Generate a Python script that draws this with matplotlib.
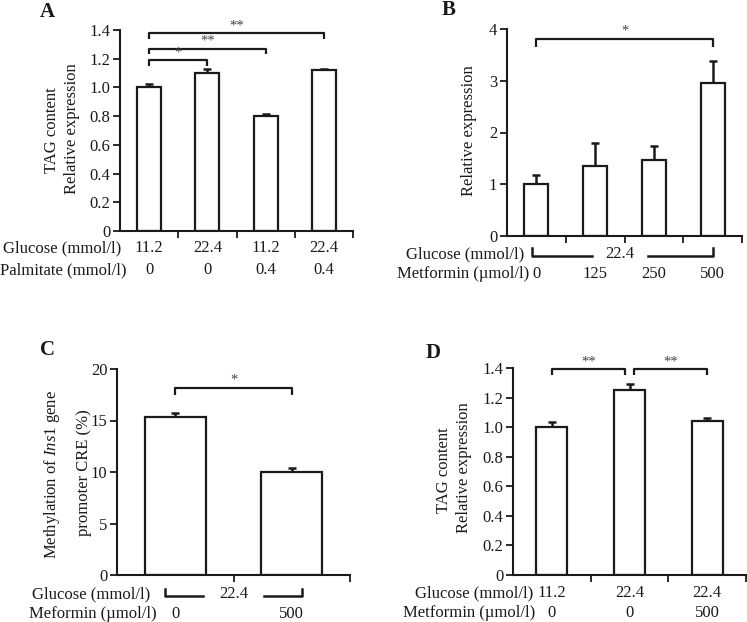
import matplotlib
matplotlib.use("Agg")
import matplotlib.pyplot as plt
from matplotlib.transforms import blended_transform_factory

plt.rcParams['font.family'] = ['Liberation Serif', 'DejaVu Serif']
plt.rcParams['mathtext.fontset'] = 'custom'
plt.rcParams['mathtext.rm'] = 'Liberation Serif'
plt.rcParams['mathtext.it'] = 'Liberation Serif:italic'

# ---------------- data ----------------
# Panel A
a_glucose = ["11.2", "22.4", "11.2", "22.4"]
a_palmitate = ["0", "0", "0.4", "0.4"]
a_values = [1.00, 1.10, 0.80, 1.12]
a_errors = [0.022, 0.030, 0.012, 0.005]
a_yticks = [0, 0.2, 0.4, 0.6, 0.8, 1.0, 1.2, 1.4]
a_yticklabels = ["0", "0.2", "0.4", "0.6", "0.8", "1.0", "1.2", "1.4"]
a_sig = [(0, 1, 1.19, "*"), (0, 2, 1.27, "**"), (0, 3, 1.38, "**")]

# Panel B
b_glucose = "22.4"
b_metformin = ["0", "125", "250", "500"]
b_values = [1.00, 1.36, 1.47, 2.95]
b_errors = [0.17, 0.43, 0.26, 0.44]
b_yticks = [0, 1, 2, 3, 4]
b_yticklabels = ["0", "1", "2", "3", "4"]
b_sig = [(0, 3, 3.81, "*")]

# Panel C
c_glucose = "22.4"
c_metformin = ["0", "500"]
c_values = [15.3, 10.0]
c_errors = [0.40, 0.40]
c_yticks = [0, 5, 10, 15, 20]
c_yticklabels = ["0", "5", "10", "15", "20"]
c_sig = [(0, 1, 18.2, "*")]

# Panel D
d_glucose = ["11.2", "22.4", "22.4"]
d_metformin = ["0", "0", "500"]
d_values = [1.00, 1.25, 1.04]
d_errors = [0.035, 0.045, 0.022]
d_yticks = [0, 0.2, 0.4, 0.6, 0.8, 1.0, 1.2, 1.4]
d_yticklabels = ["0", "0.2", "0.4", "0.6", "0.8", "1.0", "1.2", "1.4"]
d_sig = [(0, 0.94, 1.393, "**"), (1.06, 2, 1.393, "**")]

# ---------------- figure ----------------
W, H = 747, 622
fig = plt.figure(figsize=(W / 100, H / 100), dpi=100)
TXT = "#1a1a1a"
FS = 12


def fx(px):
    return px / W


def fy(py):
    return 1 - py / H


def make_ax(left, right, bottom, top):
    return fig.add_axes([fx(left), fy(bottom), (right - left) / W, (bottom - top) / H])


def style_bars(ax, values, errors, width, yticks, yticklabels, ymax):
    n = len(values)
    x = list(range(n))
    ax.bar(x, values, width=width, color="white", edgecolor="#1a1a1a", linewidth=1.6, zorder=2)
    ax.errorbar(x, values, yerr=[[0] * n, errors], fmt="none", ecolor="#1a1a1a",
                elinewidth=1.8, capsize=3, capthick=1.8, zorder=1)
    ax.set_xlim(-0.5, n - 0.5)
    ax.set_ylim(0, ymax)
    ax.set_yticks(yticks)
    ax.set_yticklabels(yticklabels, fontsize=FS, color=TXT)
    ax.set_xticks([i + 0.5 for i in range(n)])
    ax.set_xticklabels([])
    for s in ["top", "right"]:
        ax.spines[s].set_visible(False)
    for s in ["left", "bottom"]:
        ax.spines[s].set_linewidth(1.5)
        ax.spines[s].set_color("#1a1a1a")
    ax.tick_params(axis="y", direction="out", length=5, width=1.3, pad=2, colors="#1a1a1a")
    ax.tick_params(axis="x", direction="out", length=5, width=1.3, colors="#1a1a1a")
    ax.patch.set_visible(False)


def sig_bracket(ax, x1, x2, y, label, drop, star_off):
    ax.plot([x1, x1, x2, x2], [y - drop, y, y, y - drop], color="#1a1a1a", lw=1.6,
            clip_on=False, solid_capstyle="butt")
    ax.text((x1 + x2) / 2, y + star_off, label, ha="center", va="bottom", fontsize=10.5, color="#444444")


def row_text(ax, xs, labels, py):
    tr = blended_transform_factory(ax.transData, fig.transFigure)
    for xv, lab in zip(xs, labels):
        ax.text(xv, fy(py), lab, transform=tr, ha="center", va="center", fontsize=FS, color=TXT)


def under_bracket(ax, x1, x2, gap1, gap2, py, label, tick_px=8):
    tr = blended_transform_factory(ax.transData, fig.transFigure)
    y = fy(py)
    yt = fy(py - tick_px)
    ax.plot([x1, x1, gap1], [yt, y, y], transform=tr, color="#1a1a1a", lw=1.8, clip_on=False)
    ax.plot([gap2, x2, x2], [y, y, yt], transform=tr, color="#1a1a1a", lw=1.8, clip_on=False)
    ax.text((gap1 + gap2) / 2, fy(py - 2), label, transform=tr, ha="center", va="center",
            fontsize=FS, color=TXT)


# ---------- Panel A ----------
axA = make_ax(120, 353, 231, 30)
style_bars(axA, a_values, a_errors, 0.41, a_yticks, a_yticklabels, 1.4)
for x1, x2, y, lab in a_sig:
    sig_bracket(axA, x1, x2, y, lab, 0.04, 0.005)
row_text(axA, range(4), a_glucose, 248)
row_text(axA, range(4), a_palmitate, 270)
fig.text(fx(3), fy(248), "Glucose (mmol/l)", ha="left", va="center", fontsize=FS, color=TXT)
fig.text(fx(0), fy(270), "Palmitate (mmol/l)", ha="left", va="center", fontsize=FS, color=TXT)
fig.text(fx(52), fy(130), "TAG content", rotation=90, ha="center", va="center", fontsize=FS, color=TXT)
fig.text(fx(72), fy(129), "Relative expression", rotation=90, ha="center", va="center", fontsize=FS, color=TXT)
fig.text(fx(47), fy(12), "A", ha="center", va="center", fontsize=15, fontweight="bold", color=TXT)

# ---------- Panel B ----------
axB = make_ax(507, 742, 236, 29)
style_bars(axB, b_values, b_errors, 0.41, b_yticks, b_yticklabels, 4)
for x1, x2, y, lab in b_sig:
    sig_bracket(axB, x1, x2, y, lab, 0.15, 0.02)
under_bracket(axB, 0 - 0.07, 3, 0.95, 1.9, 256, b_glucose)
row_text(axB, range(4), b_metformin, 274)
fig.text(fx(406), fy(254), "Glucose (mmol/l)", ha="left", va="center", fontsize=FS, color=TXT)
fig.text(fx(397), fy(274), "Metformin (\u00b5mol/l)", ha="left", va="center", fontsize=FS, color=TXT)
fig.text(fx(469), fy(131), "Relative expression", rotation=90, ha="center", va="center", fontsize=FS, color=TXT)
fig.text(fx(449), fy(10), "B", ha="center", va="center", fontsize=15, fontweight="bold", color=TXT)

# ---------- Panel C ----------
axC = make_ax(117, 350, 575, 369)
style_bars(axC, c_values, c_errors, 0.52, c_yticks, c_yticklabels, 20)
for x1, x2, y, lab in c_sig:
    sig_bracket(axC, x1, x2, y, lab, 0.7, 0.1)
under_bracket(axC, -0.09, 1.09, 0.24, 0.76, 596, c_glucose, tick_px=7)
row_text(axC, range(2), c_metformin, 614)
fig.text(fx(32), fy(594), "Glucose (mmol/l)", ha="left", va="center", fontsize=FS, color=TXT)
fig.text(fx(29), fy(614), "Meformin (\u00b5mol/l)", ha="left", va="center", fontsize=FS, color=TXT)
fig.text(fx(52), fy(474), r"Methylation of $\mathit{Ins1}$ gene", rotation=90, ha="center", va="center",
         fontsize=FS, color=TXT)
fig.text(fx(84), fy(473), "promoter CRE (%)", rotation=90, ha="center", va="center", fontsize=FS, color=TXT)
fig.text(fx(47), fy(350), "C", ha="center", va="center", fontsize=15, fontweight="bold", color=TXT)

# ---------- Panel D ----------
axD = make_ax(513, 746, 575, 368)
style_bars(axD, d_values, d_errors, 0.40, d_yticks, d_yticklabels, 1.4)
for x1, x2, y, lab in d_sig:
    sig_bracket(axD, x1, x2, y, lab, 0.04, 0.005)
row_text(axD, range(3), d_glucose, 593)
row_text(axD, range(3), d_metformin, 613)
fig.text(fx(415), fy(593), "Glucose (mmol/l)", ha="left", va="center", fontsize=FS, color=TXT)
fig.text(fx(403), fy(613), "Metformin (\u00b5mol/l)", ha="left", va="center", fontsize=FS, color=TXT)
fig.text(fx(444), fy(470), "TAG content", rotation=90, ha="center", va="center", fontsize=FS, color=TXT)
fig.text(fx(464), fy(468), "Relative expression", rotation=90, ha="center", va="center", fontsize=FS, color=TXT)
fig.text(fx(433), fy(353), "D", ha="center", va="center", fontsize=15, fontweight="bold", color=TXT)

fig.savefig("out.png", dpi=100)
